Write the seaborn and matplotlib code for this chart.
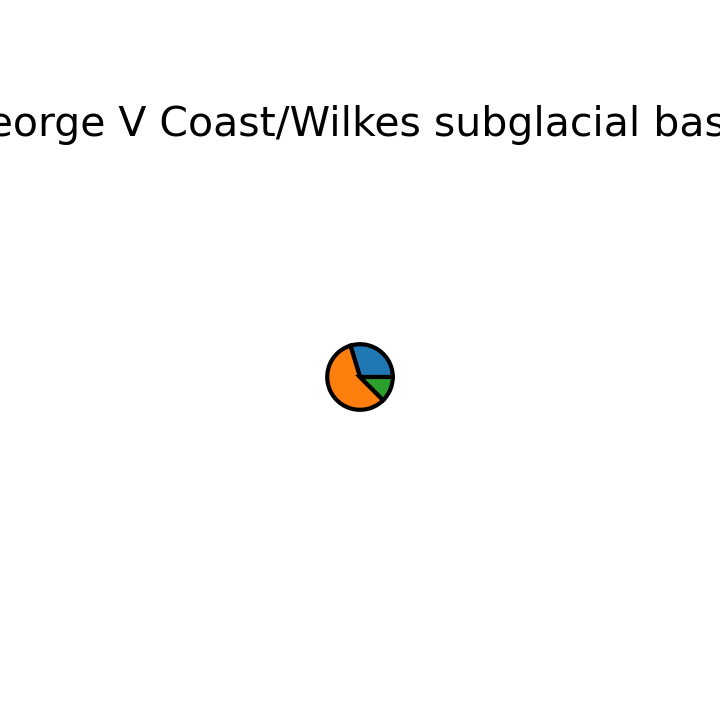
import seaborn as sns
from matplotlib import pyplot as plt

# pie shares, counterclockwise from 0 deg
labels = ["A", "B", "C"]
shares = [29.7, 57.8, 12.5]
title = "George V Coast/Wilkes subglacial basin"

sns.set_style("white")
colors = sns.color_palette("tab10", 3)

fig = plt.figure(figsize=(7.2, 7.2), dpi=100)
# small axes around the pie
ax = fig.add_axes([(360 - 40) / 720, 1 - (377 + 40) / 720, 80 / 720, 80 / 720])
ax.pie(shares, colors=colors, startangle=0, counterclock=True, radius=1,
       wedgeprops={"edgecolor": "black", "linewidth": 3})
ax.set_xlim(-1.22, 1.22)
ax.set_ylim(-1.22, 1.22)
ax.set_aspect("equal")
ax.axis("off")

fig.text(0.5, 1 - 125 / 720, title, ha="center", va="center", fontsize=29.5, color="black")

fig.savefig("out.png", dpi=100)
